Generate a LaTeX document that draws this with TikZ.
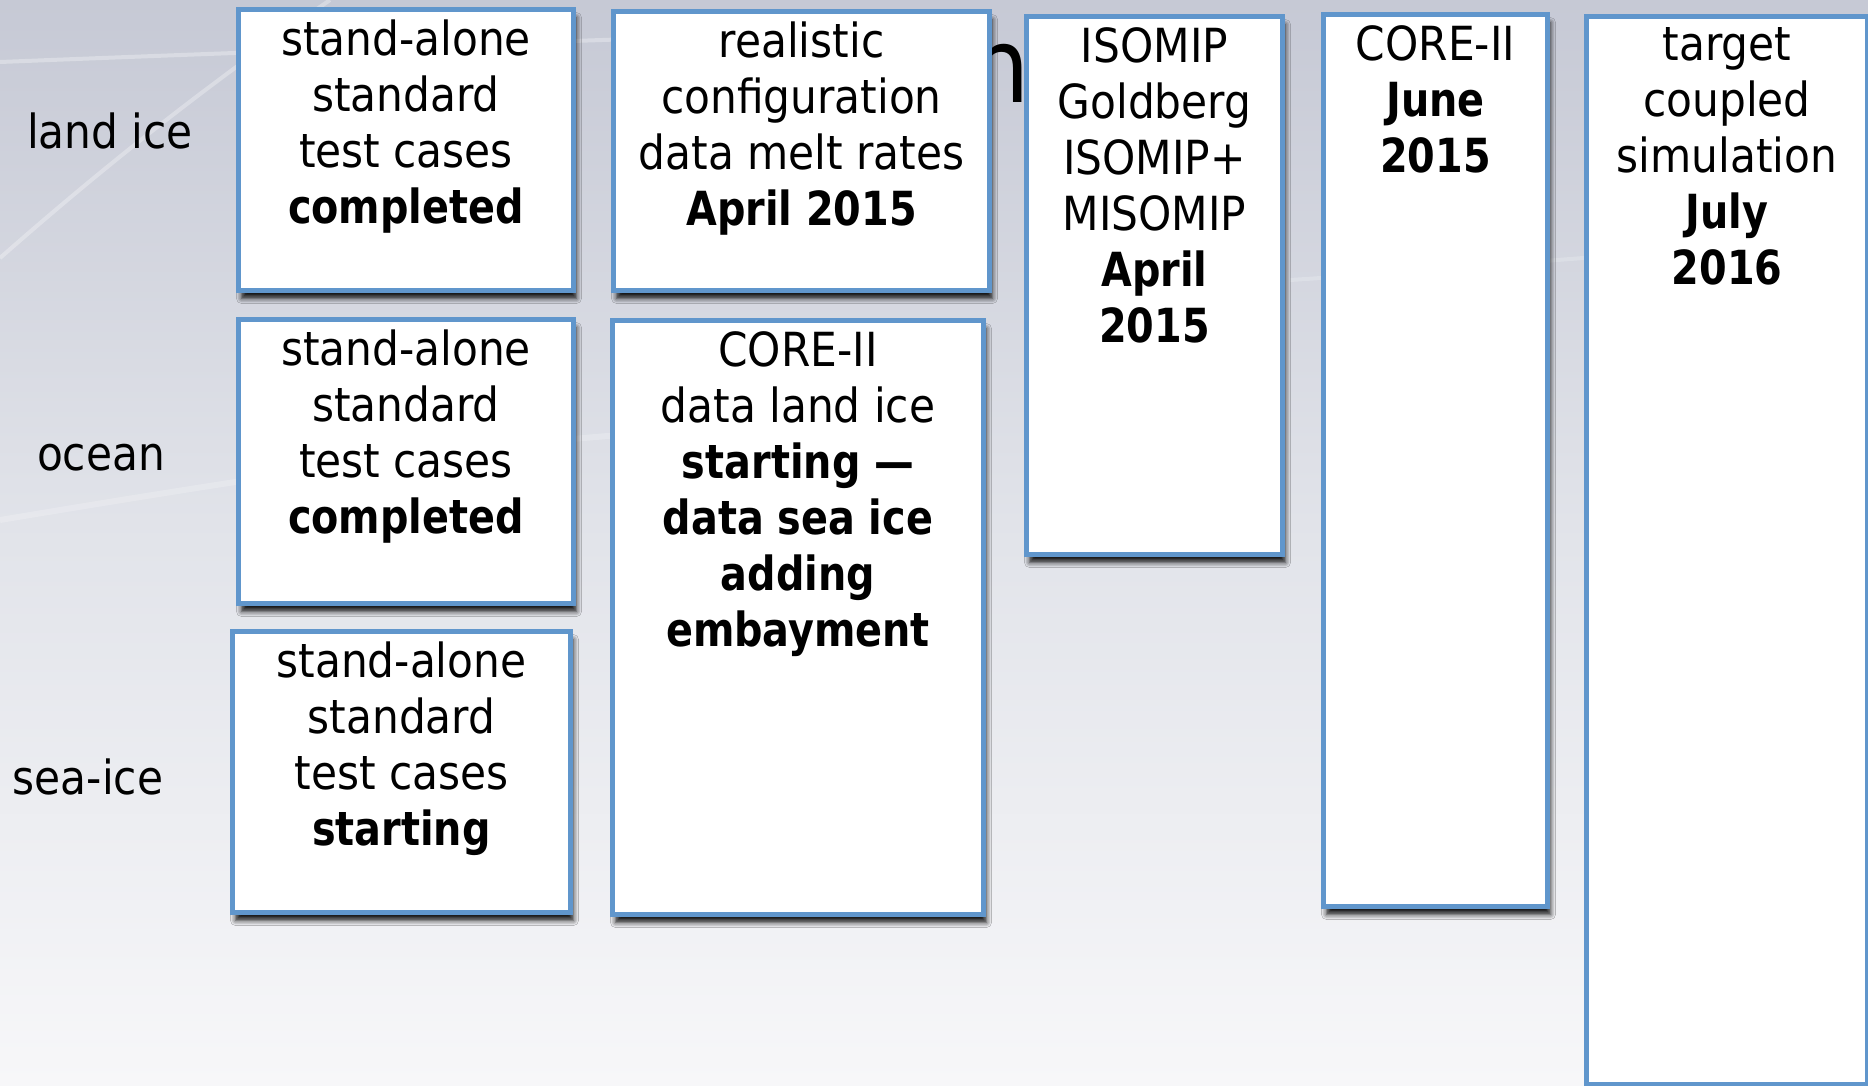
\documentclass[tikz,border=0pt]{standalone}
\usepackage{fontspec}
\setmainfont{DejaVu Sans Condensed}[BoldFeatures={FakeStretch=0.94}]
\usetikzlibrary{shadows.blur}
\definecolor{bordblue}{RGB}{96,150,204}
\definecolor{bgtop}{RGB}{198,201,213}
\definecolor{bgmid}{RGB}{226,228,234}
\definecolor{bgbot}{RGB}{247,247,249}
\begin{document}
\begin{tikzpicture}[x=1pt,y=-1pt,
  box/.style={draw=bordblue, line width=5pt, fill=white, inner sep=0pt, anchor=north west,
    blur shadow={shadow xshift=3pt, shadow yshift=-8pt, shadow blur radius=5pt, shadow opacity=90}},
  txt/.style={anchor=north, align=center, inner sep=0pt, font=\fontsize{47}{56}\selectfont},
  lab/.style={anchor=base, inner sep=0pt, font=\fontsize{47}{56}\selectfont},
  swoosh/.style={white, opacity=0.3, line width=4pt}]
% background
\useasboundingbox (0,0) rectangle (1868,1085);
\shade[top color=bgtop, bottom color=bgbot, middle color=bgmid] (0,0) rectangle (1868,1085);
\draw[swoosh] (0,62) .. controls (300,50) and (600,40) .. (900,30);
\draw[swoosh] (0,258) .. controls (100,170) and (200,90) .. (330,0);
\draw[swoosh, opacity=0.2, line width=6pt] (0,520) .. controls (300,470) and (500,440) .. (700,430);
\draw[swoosh, opacity=0.2] (1290,280) .. controls (1450,270) and (1650,250) .. (1868,240);
% partly hidden title letter
\node[anchor=base east, inner sep=0pt, font=\fontsize{104}{120}\selectfont] (title) at (1030,102) {n};
% row labels
\node[lab] (landice) at (110,148) {land ice};
\node[lab] (ocean) at (101,470) {ocean};
\node[lab] (seaice) at (88,794) {sea-ice};
% boxes
\node[box, minimum width=335pt, minimum height=281pt] (A) at (236,7) {};
\node[box, minimum width=376pt, minimum height=279pt] (B) at (611,9) {};
\node[box, minimum width=256pt, minimum height=538pt] (C) at (1024,14) {};
\node[box, minimum width=224pt, minimum height=892pt] (D) at (1321,12) {};
\node[box, minimum width=281pt, minimum height=1068pt] (E) at (1584,14) {};
\node[box, minimum width=335pt, minimum height=284pt] (F) at (236,317) {};
\node[box, minimum width=371pt, minimum height=594pt] (G) at (610,318) {};
\node[box, minimum width=338pt, minimum height=281pt] (H) at (230,629) {};
% texts
\node[txt] (At) at ([yshift=-13pt]A.north) {stand-alone\\standard\\test cases\\\textbf{completed}};
\node[txt] (Bt) at ([yshift=-13pt]B.north) {realistic\\configuration\\data melt rates\\\textbf{April 2015}};
\node[txt] (Ct) at ([yshift=-13pt]C.north) {ISOMIP\\Goldberg\\ISOMIP+\\MISOMIP\\\textbf{April}\\\textbf{2015}};
\node[txt] (Dt) at ([yshift=-13pt]D.north) {CORE-II\\\textbf{June}\\\textbf{2015}};
\node[txt] (Et) at ([yshift=-13pt]E.north) {target\\coupled\\simulation\\\textbf{July}\\\textbf{2016}};
\node[txt] (Ft) at ([yshift=-13pt]F.north) {stand-alone\\standard\\test cases\\\textbf{completed}};
\node[txt] (Gt) at ([yshift=-13pt]G.north) {CORE-II\\data land ice\\\textbf{starting —}\\\textbf{data sea ice}\\\textbf{adding}\\\textbf{embayment}};
\node[txt] (Ht) at ([yshift=-13pt]H.north) {stand-alone\\standard\\test cases\\\textbf{starting}};
\end{tikzpicture}
\end{document}
